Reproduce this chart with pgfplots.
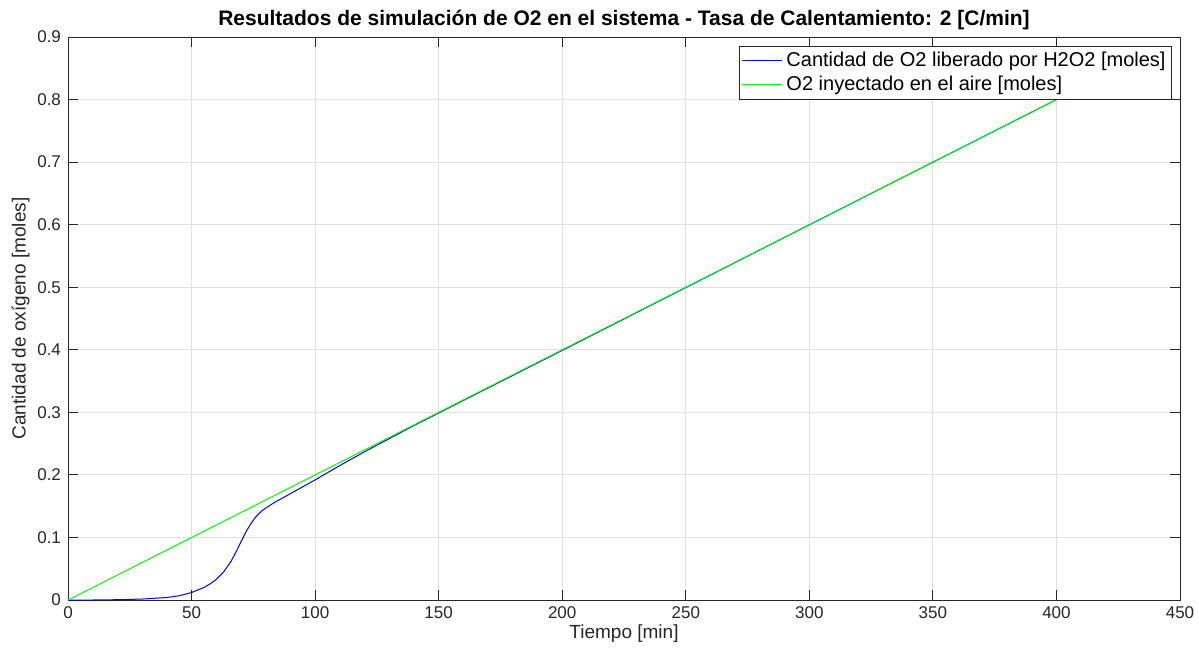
\documentclass[border=0pt]{standalone}
\usepackage{pgfplots}
\pgfplotsset{compat=1.18}
\usepackage{fontspec}
\setmainfont{Liberation Sans}
\definecolor{axgray}{gray}{0.15}
\definecolor{gridgray}{gray}{0.88}
\definecolor{myblue}{rgb}{0,0,1}
\definecolor{mygreen}{rgb}{0,1,0}
\begin{document}
\begin{tikzpicture}
\useasboundingbox (-34pt,-29.5pt) rectangle (565.5pt,300pt);
\begin{axis}[
  scale only axis,
  width=556pt, height=281.5pt,
  xmin=0, xmax=450, ymin=0, ymax=0.9,
  xtick={0,50,...,450},
  ytick={0,0.1,...,0.9},
  /pgf/number format/assume math mode=true,
  yticklabel style={/pgf/number format/fixed,/pgf/number format/precision=1},
  tick label style={font=\fontsize{8.5}{10}\selectfont, color=axgray},
  tick align=inside, tick pos=both,
  major tick length=5pt,
  axis line style={color=axgray, line width=0.4pt},
  every tick/.style={color=axgray, line width=0.4pt},
  grid=major,
  major grid style={color=gridgray, line width=0.4pt},
  title={\bfseries Resultados de simulación de O2 en el sistema - Tasa de Calentamiento: 2 [C/min]},
  title style={font=\fontsize{10.5}{12}\selectfont, yshift=-6pt},
  xlabel={Tiempo [min]},
  ylabel={Cantidad de oxígeno [moles]},
  label style={font=\fontsize{9.5}{11}\selectfont, color=axgray},
  xlabel style={yshift=4pt},
  ylabel style={yshift=-3pt},
  legend style={at={(rel axis cs:0.9928,0.984)}, anchor=north east,
    font=\fontsize{10}{12}\selectfont, draw=axgray,
    inner sep=1pt, row sep=-1pt},
  legend cell align=left,
]
\addplot[myblue, line width=0.5pt,
  legend image code/.code={\draw[myblue, line width=0.6pt] (0pt,0.5pt) -- (20pt,0.5pt);}] coordinates {
(0,0) (10,0.0000) (20,0.0005) (30,0.0015) (40,0.004) (45,0.0068) (50,0.012)
(55,0.02) (58,0.027) (60,0.033) (63,0.045) (66,0.062) (68,0.077) (70,0.093)
(72,0.109) (74,0.122) (76,0.133) (78,0.141) (80,0.147) (84,0.157) (90,0.170)
(100,0.192) (110,0.215) (120,0.237) (130,0.258) (140,0.279) (150,0.299)
(175,0.349) (200,0.399) (250,0.4995) (300,0.5998) (400,0.8)
};
\addlegendentry{Cantidad de O2 liberado por H2O2 [moles]}
\addplot[mygreen, line width=0.5pt,
  legend image code/.code={\draw[mygreen, line width=0.6pt] (0pt,0pt) -- (20pt,0pt);}] coordinates {(0,0) (400,0.8)};
\addlegendentry{O2 inyectado en el aire [moles]}
\end{axis}
\end{tikzpicture}
\end{document}
